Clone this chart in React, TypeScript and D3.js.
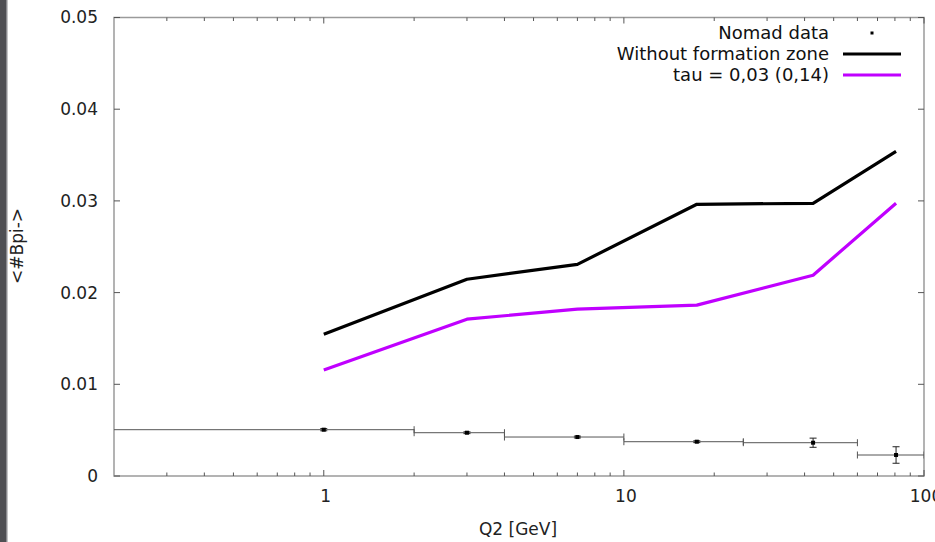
import React from "react";
import * as d3 from "d3";

// model curves, evaluated at the same Q2 points
const q2Model = [1, 3, 7, 17.5, 42.7, 80.7];
const withoutFz = [0.01547, 0.02146, 0.02308, 0.02963, 0.02974, 0.0354];
const tauCurve = [0.01155, 0.0171, 0.0182, 0.01863, 0.0219, 0.02974];

// Nomad points with bins
const nomadQ2 = [1, 3, 7, 17.5, 42.7, 80.7];
const nomadLo = [0.1, 2, 4, 10, 25, 60];
const nomadHi = [2, 4, 10, 25, 60, 100];
const nomadVal = [0.00505, 0.00472, 0.00425, 0.00374, 0.00363, 0.00229];
const nomadErr = [0.00012, 0.0001, 0.0001, 0.0001, 0.0005, 0.0009];

const yTicks = [0, 0.01, 0.02, 0.03, 0.04, 0.05];
const xMajor = [1, 10, 100];
const legendLabels = ["Nomad data", "Without formation zone", "tau = 0,03 (0,14)"];

const W = 935, H = 542;
const left = 114, right = 924, top = 17.5, bottom = 476;
const FONT = "'DejaVu Sans', sans-serif";
const PURPLE = "#c000ff";
const FRAME = "#9a9a9a";

const App = () => {
  const x = d3.scaleLog().domain([0.2, 100]).range([left, right]);
  const y = d3.scaleLinear().domain([0, 0.05]).range([bottom, top]);

  const xMinor: number[] = [];
  [0.1, 1, 10].forEach(dec => {
    for (let k = 2; k <= 9; k++) {
      const v = dec * k;
      if (v > 0.2 && v < 100) xMinor.push(v);
    }
  });

  const line = d3
    .line<number>()
    .x((d, i) => x(q2Model[i]))
    .y(d => y(d));

  return (
    <svg width={W} height={H} style={{ position: "absolute", left: 0, top: 0 }} fontFamily={FONT}>
      <rect x={0} y={0} width={W} height={H} fill="#fff" />
      <rect x={0} y={0} width={6} height={H} fill="#4f4f53" />
      <rect x={6} y={0} width={1.5} height={H} fill="#8a8a8e" />
      <defs>
        <clipPath id="plot">
          <rect x={left} y={top} width={right - left} height={bottom - top} />
        </clipPath>
      </defs>

      {/* frame + ticks */}
      <rect x={left} y={top} width={right - left} height={bottom - top} fill="none" stroke={FRAME} strokeWidth={1.5} />
      <g stroke="#555" strokeWidth={1}>
        {yTicks.map(t => (
          <g key={"y" + t}>
            <line x1={left} x2={left + 6} y1={y(t)} y2={y(t)} />
            <line x1={right} x2={right - 6} y1={y(t)} y2={y(t)} />
          </g>
        ))}
        {xMajor.map(t => (
          <g key={"x" + t}>
            <line x1={x(t)} x2={x(t)} y1={bottom} y2={bottom - 6} />
            <line x1={x(t)} x2={x(t)} y1={top} y2={top + 6} />
          </g>
        ))}
        {xMinor.map(t => (
          <g key={"m" + t}>
            <line x1={x(t)} x2={x(t)} y1={bottom} y2={bottom - 3.5} />
            <line x1={x(t)} x2={x(t)} y1={top} y2={top + 3.5} />
          </g>
        ))}
      </g>

      <g fontSize={17} fill="#222">
        {yTicks.map(t => (
          <text key={"yl" + t} x={98} y={y(t)} dy="0.35em" textAnchor="end">
            {t === 0 ? "0" : d3.format(".2f")(t)}
          </text>
        ))}
        {/* the 100 label runs past the right edge, as in the original screenshot */}
        {xMajor.map(t => (
          <text key={"xl" + t} x={x(t) + 2} y={502} textAnchor="middle">
            {t}
          </text>
        ))}
        <text x={518} y={535} textAnchor="middle">Q2 [GeV]</text>
        <text transform={`translate(23,246) rotate(-90)`} textAnchor="middle">{"<#Bpi->"}</text>
      </g>

      {/* data */}
      <g clipPath="url(#plot)">
        <g stroke="#555" strokeWidth={1} fill="none">
          {nomadQ2.map((q, i) => {
            const cy = y(nomadVal[i]);
            const x0 = x(nomadLo[i]), x1 = x(nomadHi[i]);
            const ylo = y(nomadVal[i] - nomadErr[i]), yhi = y(nomadVal[i] + nomadErr[i]);
            return (
              <g key={"n" + i}>
                <line x1={x0} x2={x1} y1={cy} y2={cy} />
                <line x1={x0} x2={x0} y1={cy - 3.5} y2={cy + 3.5} />
                <line x1={x1} x2={x1} y1={cy - 3.5} y2={cy + 3.5} />
                <line x1={x(q)} x2={x(q)} y1={ylo} y2={yhi} stroke="#222" />
                <line x1={x(q) - 3.5} x2={x(q) + 3.5} y1={ylo} y2={ylo} stroke="#222" />
                <line x1={x(q) - 3.5} x2={x(q) + 3.5} y1={yhi} y2={yhi} stroke="#222" />
              </g>
            );
          })}
        </g>
        {nomadQ2.map((q, i) => (
          <rect key={"p" + i} x={x(q) - 2} y={y(nomadVal[i]) - 2} width={4} height={4} fill="#000" />
        ))}
        <path d={line(withoutFz) || ""} fill="none" stroke="#000" strokeWidth={3.2} strokeLinejoin="round" />
        <path d={line(tauCurve) || ""} fill="none" stroke={PURPLE} strokeWidth={3.2} strokeLinejoin="round" />
      </g>

      {/* legend */}
      <g fontSize={18} fill="#111">
        {legendLabels.map((l, i) => (
          <text key={l} x={829} y={32.5 + i * 21} dy="0.35em" textAnchor="end">{l}</text>
        ))}
        <rect x={870.5} y={31.5} width={3} height={3} fill="#000" />
        <line x1={843} x2={901} y1={54} y2={54} stroke="#000" strokeWidth={3} />
        <line x1={843} x2={901} y1={75} y2={75} stroke={PURPLE} strokeWidth={3} />
      </g>
    </svg>
  );
};

export default App;
